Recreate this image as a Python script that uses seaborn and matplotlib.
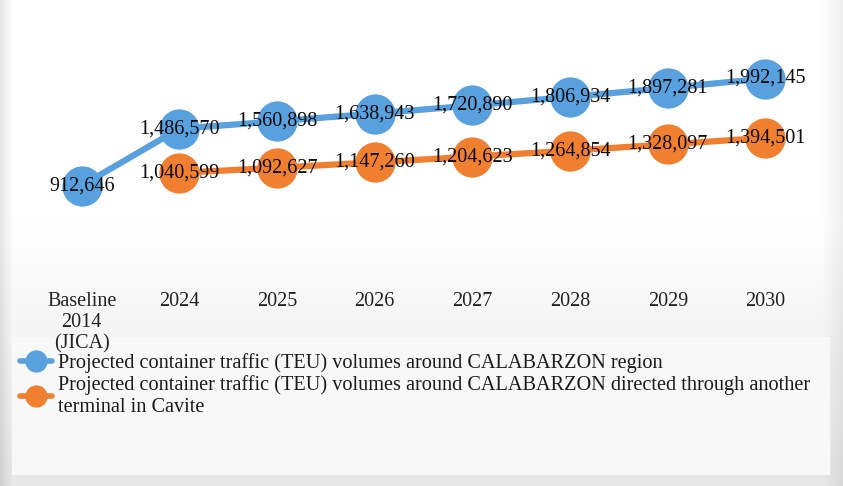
import numpy as np
import pandas as pd
import matplotlib
matplotlib.use("Agg")
import matplotlib.pyplot as plt
from matplotlib.lines import Line2D
from matplotlib.patches import Rectangle
import seaborn as sns

categories = ["Baseline\n2014\n(JICA)", "2024", "2025", "2026", "2027", "2028", "2029", "2030"]
region_values = [912646, 1486570, 1560898, 1638943, 1720890, 1806934, 1897281, 1992145]
cavite_values = [np.nan, 1040599, 1092627, 1147260, 1204623, 1264854, 1328097, 1394501]
series_names = [
    "Projected container traffic (TEU) volumes around CALABARZON region",
    "Projected container traffic (TEU) volumes around CALABARZON directed through another\nterminal in Cavite",
]
colors = ["#58a0de", "#f07f30"]

df = pd.DataFrame({
    "cat": categories * 2,
    "val": region_values + cavite_values,
    "series": [series_names[0]] * len(categories) + [series_names[1]] * len(categories),
})

sns.set_theme(style="white")
plt.rcParams["font.family"] = ["Liberation Serif", "DejaVu Serif"]

fig = plt.figure(figsize=(8.43, 4.86), dpi=100)
fig.patch.set_facecolor("#e6e6e6")

# background gradient
bg = fig.add_axes([0, 0, 1, 1], zorder=-10)
h, w = 486, 843
yy = np.linspace(0, 1, h)[:, None]
xx = np.linspace(0, 1, w)[None, :]
shade = 1.0 - 0.09 * np.clip((yy - 0.45) / 0.55, 0, 1) - 0.09 * np.clip((0.015 - xx) / 0.015, 0, 1) - 0.06 * np.clip((xx - 0.975) / 0.025, 0, 1)
shade = np.clip(shade, 0, 1)
bg.imshow(np.repeat(shade[:, :, None], 3, axis=2), aspect="auto", extent=[0, 1, 0, 1])
bg.set_axis_off()

# legend box (behind the chart axes)
fig.patches.append(Rectangle((12 / 843, 11 / 486), 818 / 843, 138 / 486, transform=fig.transFigure,
                             facecolor="#f8f8f8", edgecolor="none", zorder=-5))

ax = fig.add_axes([0.039, 0.432, 0.927, 0.51])
ax.set_facecolor("none")

palette = {series_names[0]: colors[0], series_names[1]: colors[1]}
sns.lineplot(data=df, x="cat", y="val", hue="series", palette=palette, marker="o",
             markersize=29, markeredgewidth=0, linewidth=4.5, sort=False, legend=False, ax=ax)

for i, v in enumerate(region_values):
    ax.text(i, v, f"{v:,}", ha="center", va="center", fontsize=14.5, color="#0a0a0a")
for i, v in enumerate(cavite_values):
    if not np.isnan(v):
        ax.text(i, v, f"{int(v):,}", ha="center", va="center", fontsize=14.5, color="#0a0a0a")

ax.set_xlim(-0.5, len(categories) - 0.5)
ax.set_ylim(0, 2500000)
ax.set_yticks([])
ax.set_xlabel("")
ax.set_ylabel("")
ax.tick_params(axis="x", length=0, pad=11.5, labelsize=14.5, labelcolor="#222222")
for lbl in ax.get_xticklabels():
    lbl.set_linespacing(1.15)
for s in ax.spines.values():
    s.set_visible(False)

handles = [Line2D([0], [0], color=c, lw=4, marker="o", markersize=16, markeredgewidth=0) for c in colors]
leg = fig.legend(handles, series_names, loc="upper left", bbox_to_anchor=(20 / 843, 1 - 353 / 486),
                 frameon=False, fontsize=14.6, handlelength=1.6, handletextpad=0.25, labelspacing=0.1,
                 borderaxespad=0, borderpad=0)
for t in leg.get_texts():
    t.set_linespacing(1.2)
    t.set_color("#1a1a1a")

fig.savefig("out.png", dpi=100, facecolor=fig.get_facecolor())
